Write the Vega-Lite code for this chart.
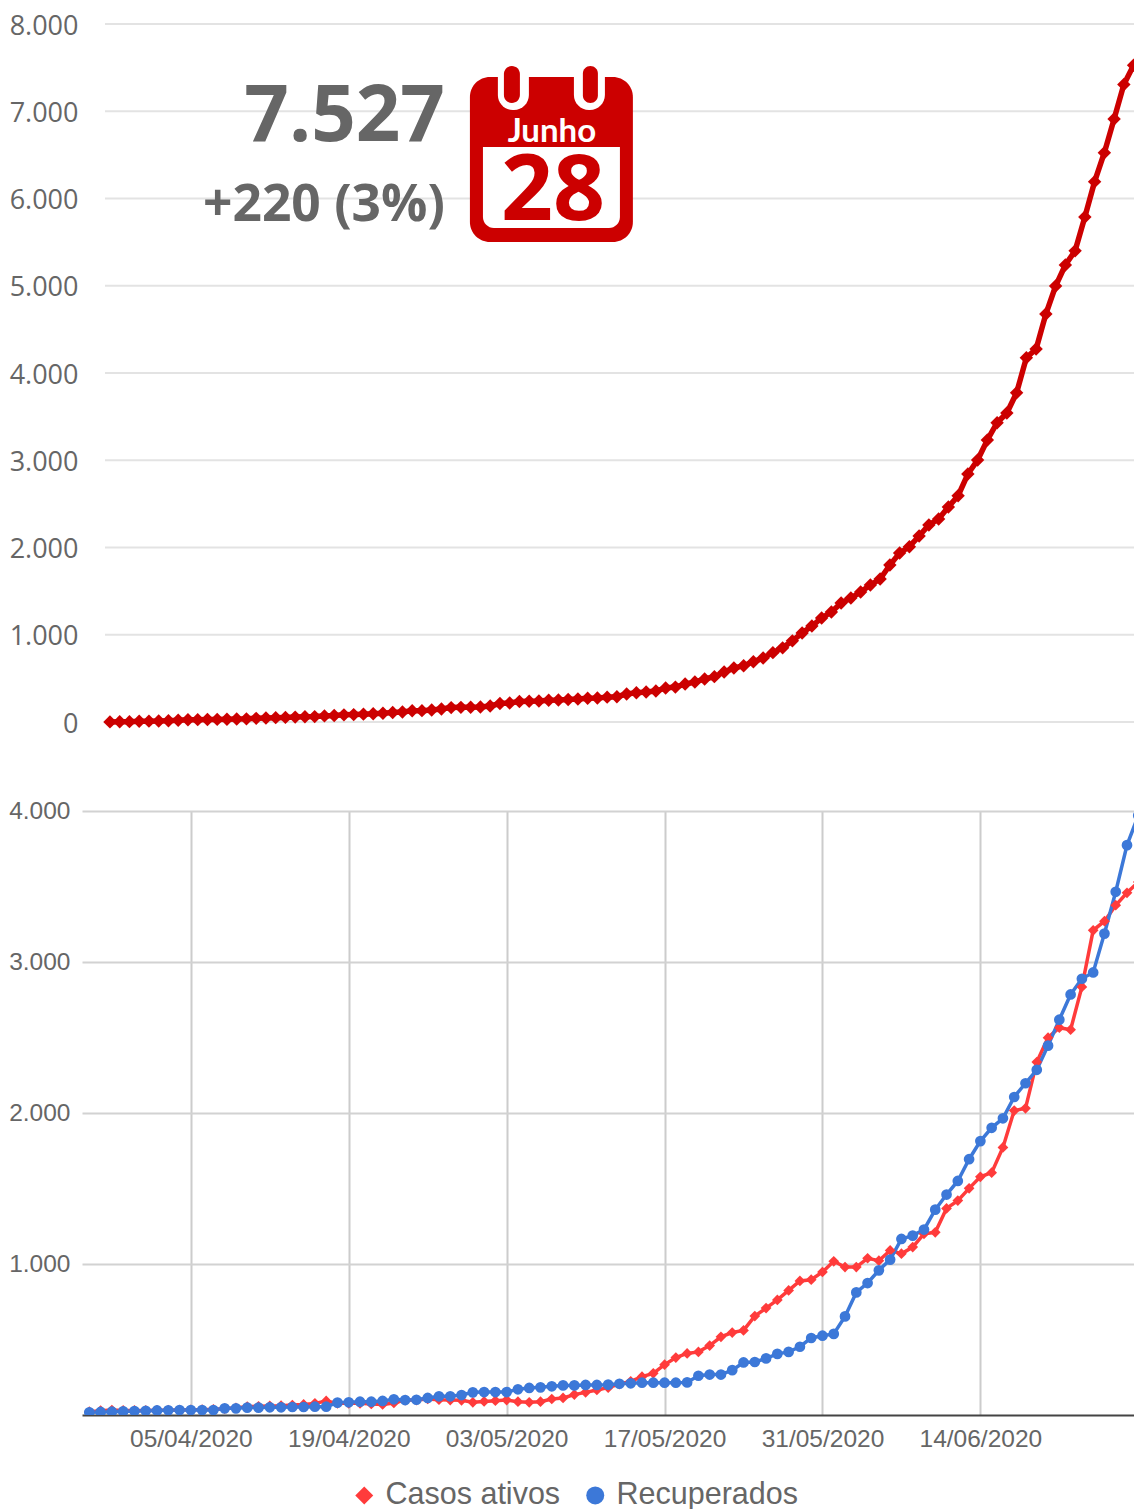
{"$schema":"https://vega.github.io/schema/vega-lite/v6.json","background":"white","padding":{"left":0,"top":12,"right":0,"bottom":0},"spacing":61,"config":{"view":{"stroke":null}},
"datasets":{
"top":[{"d":"2020-03-15","v":1},{"d":"2020-03-16","v":2},{"d":"2020-03-17","v":4},{"d":"2020-03-18","v":8},{"d":"2020-03-19","v":10},{"d":"2020-03-20","v":12},{"d":"2020-03-21","v":15},{"d":"2020-03-22","v":20},{"d":"2020-03-23","v":25},{"d":"2020-03-24","v":27},{"d":"2020-03-25","v":28},{"d":"2020-03-26","v":30},{"d":"2020-03-27","v":32},{"d":"2020-03-28","v":34},{"d":"2020-03-29","v":36},{"d":"2020-03-30","v":42},{"d":"2020-03-31","v":45},{"d":"2020-04-01","v":50},{"d":"2020-04-02","v":53},{"d":"2020-04-03","v":56},{"d":"2020-04-04","v":60},{"d":"2020-04-05","v":62},{"d":"2020-04-06","v":70},{"d":"2020-04-07","v":75},{"d":"2020-04-08","v":82},{"d":"2020-04-09","v":85},{"d":"2020-04-10","v":90},{"d":"2020-04-11","v":94},{"d":"2020-04-12","v":100},{"d":"2020-04-13","v":108},{"d":"2020-04-14","v":115},{"d":"2020-04-15","v":128},{"d":"2020-04-16","v":130},{"d":"2020-04-17","v":138},{"d":"2020-04-18","v":149},{"d":"2020-04-19","v":165},{"d":"2020-04-20","v":168},{"d":"2020-04-21","v":170},{"d":"2020-04-22","v":172},{"d":"2020-04-23","v":183},{"d":"2020-04-24","v":212},{"d":"2020-04-25","v":218},{"d":"2020-04-26","v":235},{"d":"2020-04-27","v":238},{"d":"2020-04-28","v":241},{"d":"2020-04-29","v":250},{"d":"2020-04-30","v":252},{"d":"2020-05-01","v":258},{"d":"2020-05-02","v":264},{"d":"2020-05-03","v":272},{"d":"2020-05-04","v":275},{"d":"2020-05-05","v":285},{"d":"2020-05-06","v":290},{"d":"2020-05-07","v":321},{"d":"2020-05-08","v":335},{"d":"2020-05-09","v":344},{"d":"2020-05-10","v":355},{"d":"2020-05-11","v":390},{"d":"2020-05-12","v":400},{"d":"2020-05-13","v":435},{"d":"2020-05-14","v":458},{"d":"2020-05-15","v":493},{"d":"2020-05-16","v":520},{"d":"2020-05-17","v":573},{"d":"2020-05-18","v":618},{"d":"2020-05-19","v":645},{"d":"2020-05-20","v":690},{"d":"2020-05-21","v":733},{"d":"2020-05-22","v":795},{"d":"2020-05-23","v":850},{"d":"2020-05-24","v":930},{"d":"2020-05-25","v":1020},{"d":"2020-05-26","v":1100},{"d":"2020-05-27","v":1192},{"d":"2020-05-28","v":1261},{"d":"2020-05-29","v":1364},{"d":"2020-05-30","v":1421},{"d":"2020-05-31","v":1490},{"d":"2020-06-01","v":1570},{"d":"2020-06-02","v":1639},{"d":"2020-06-03","v":1799},{"d":"2020-06-04","v":1937},{"d":"2020-06-05","v":2009},{"d":"2020-06-06","v":2132},{"d":"2020-06-07","v":2258},{"d":"2020-06-08","v":2327},{"d":"2020-06-09","v":2464},{"d":"2020-06-10","v":2594},{"d":"2020-06-11","v":2842},{"d":"2020-06-12","v":3003},{"d":"2020-06-13","v":3232},{"d":"2020-06-14","v":3430},{"d":"2020-06-15","v":3541},{"d":"2020-06-16","v":3774},{"d":"2020-06-17","v":4175},{"d":"2020-06-18","v":4275},{"d":"2020-06-19","v":4676},{"d":"2020-06-20","v":4997},{"d":"2020-06-21","v":5238},{"d":"2020-06-22","v":5400},{"d":"2020-06-23","v":5788},{"d":"2020-06-24","v":6193},{"d":"2020-06-25","v":6525},{"d":"2020-06-26","v":6911},{"d":"2020-06-27","v":7307},{"d":"2020-06-28","v":7527}],
"bottom":[{"d":"2020-03-27","Casos ativos":22,"Recuperados":18},{"d":"2020-03-28","Casos ativos":29,"Recuperados":20},{"d":"2020-03-29","Casos ativos":33,"Recuperados":22},{"d":"2020-03-30","Casos ativos":30,"Recuperados":24},{"d":"2020-03-31","Casos ativos":30,"Recuperados":26},{"d":"2020-04-01","Casos ativos":30,"Recuperados":28},{"d":"2020-04-02","Casos ativos":31,"Recuperados":30},{"d":"2020-04-03","Casos ativos":32,"Recuperados":31},{"d":"2020-04-04","Casos ativos":33,"Recuperados":33},{"d":"2020-04-05","Casos ativos":34,"Recuperados":33},{"d":"2020-04-06","Casos ativos":35,"Recuperados":33},{"d":"2020-04-07","Casos ativos":38,"Recuperados":33},{"d":"2020-04-08","Casos ativos":42,"Recuperados":44},{"d":"2020-04-09","Casos ativos":48,"Recuperados":44},{"d":"2020-04-10","Casos ativos":55,"Recuperados":49},{"d":"2020-04-11","Casos ativos":58,"Recuperados":49},{"d":"2020-04-12","Casos ativos":60,"Recuperados":51},{"d":"2020-04-13","Casos ativos":62,"Recuperados":51},{"d":"2020-04-14","Casos ativos":66,"Recuperados":53},{"d":"2020-04-15","Casos ativos":70,"Recuperados":53},{"d":"2020-04-16","Casos ativos":77,"Recuperados":55},{"d":"2020-04-17","Casos ativos":93,"Recuperados":55},{"d":"2020-04-18","Casos ativos":77,"Recuperados":82},{"d":"2020-04-19","Casos ativos":77,"Recuperados":84},{"d":"2020-04-20","Casos ativos":77,"Recuperados":88},{"d":"2020-04-21","Casos ativos":73,"Recuperados":88},{"d":"2020-04-22","Casos ativos":70,"Recuperados":93},{"d":"2020-04-23","Casos ativos":80,"Recuperados":104},{"d":"2020-04-24","Casos ativos":99,"Recuperados":99},{"d":"2020-04-25","Casos ativos":99,"Recuperados":101},{"d":"2020-04-26","Casos ativos":106,"Recuperados":113},{"d":"2020-04-27","Casos ativos":101,"Recuperados":124},{"d":"2020-04-28","Casos ativos":99,"Recuperados":124},{"d":"2020-04-29","Casos ativos":97,"Recuperados":132},{"d":"2020-04-30","Casos ativos":84,"Recuperados":150},{"d":"2020-05-01","Casos ativos":90,"Recuperados":152},{"d":"2020-05-02","Casos ativos":95,"Recuperados":152},{"d":"2020-05-03","Casos ativos":99,"Recuperados":152},{"d":"2020-05-04","Casos ativos":88,"Recuperados":170},{"d":"2020-05-05","Casos ativos":84,"Recuperados":179},{"d":"2020-05-06","Casos ativos":88,"Recuperados":183},{"d":"2020-05-07","Casos ativos":106,"Recuperados":190},{"d":"2020-05-08","Casos ativos":113,"Recuperados":196},{"d":"2020-05-09","Casos ativos":135,"Recuperados":196},{"d":"2020-05-10","Casos ativos":150,"Recuperados":199},{"d":"2020-05-11","Casos ativos":166,"Recuperados":199},{"d":"2020-05-12","Casos ativos":181,"Recuperados":201},{"d":"2020-05-13","Casos ativos":205,"Recuperados":207},{"d":"2020-05-14","Casos ativos":223,"Recuperados":210},{"d":"2020-05-15","Casos ativos":254,"Recuperados":214},{"d":"2020-05-16","Casos ativos":276,"Recuperados":214},{"d":"2020-05-17","Casos ativos":333,"Recuperados":214},{"d":"2020-05-18","Casos ativos":380,"Recuperados":214},{"d":"2020-05-19","Casos ativos":408,"Recuperados":216},{"d":"2020-05-20","Casos ativos":418,"Recuperados":260},{"d":"2020-05-21","Casos ativos":460,"Recuperados":268},{"d":"2020-05-22","Casos ativos":518,"Recuperados":268},{"d":"2020-05-23","Casos ativos":546,"Recuperados":297},{"d":"2020-05-24","Casos ativos":560,"Recuperados":348},{"d":"2020-05-25","Casos ativos":655,"Recuperados":351},{"d":"2020-05-26","Casos ativos":708,"Recuperados":375},{"d":"2020-05-27","Casos ativos":762,"Recuperados":405},{"d":"2020-05-28","Casos ativos":825,"Recuperados":418},{"d":"2020-05-29","Casos ativos":888,"Recuperados":452},{"d":"2020-05-30","Casos ativos":896,"Recuperados":510},{"d":"2020-05-31","Casos ativos":947,"Recuperados":525},{"d":"2020-06-01","Casos ativos":1018,"Recuperados":537},{"d":"2020-06-02","Casos ativos":980,"Recuperados":653},{"d":"2020-06-03","Casos ativos":980,"Recuperados":812},{"d":"2020-06-04","Casos ativos":1038,"Recuperados":874},{"d":"2020-06-05","Casos ativos":1022,"Recuperados":958},{"d":"2020-06-06","Casos ativos":1090,"Recuperados":1029},{"d":"2020-06-07","Casos ativos":1068,"Recuperados":1166},{"d":"2020-06-08","Casos ativos":1112,"Recuperados":1188},{"d":"2020-06-09","Casos ativos":1200,"Recuperados":1228},{"d":"2020-06-10","Casos ativos":1210,"Recuperados":1360},{"d":"2020-06-11","Casos ativos":1368,"Recuperados":1460},{"d":"2020-06-12","Casos ativos":1420,"Recuperados":1550},{"d":"2020-06-13","Casos ativos":1501,"Recuperados":1694},{"d":"2020-06-14","Casos ativos":1577,"Recuperados":1814},{"d":"2020-06-15","Casos ativos":1605,"Recuperados":1902},{"d":"2020-06-16","Casos ativos":1772,"Recuperados":1965},{"d":"2020-06-17","Casos ativos":2016,"Recuperados":2106},{"d":"2020-06-18","Casos ativos":2031,"Recuperados":2197},{"d":"2020-06-19","Casos ativos":2337,"Recuperados":2286},{"d":"2020-06-20","Casos ativos":2499,"Recuperados":2446},{"d":"2020-06-21","Casos ativos":2565,"Recuperados":2618},{"d":"2020-06-22","Casos ativos":2552,"Recuperados":2785},{"d":"2020-06-23","Casos ativos":2835,"Recuperados":2889},{"d":"2020-06-24","Casos ativos":3210,"Recuperados":2931},{"d":"2020-06-25","Casos ativos":3270,"Recuperados":3188},{"d":"2020-06-26","Casos ativos":3376,"Recuperados":3465},{"d":"2020-06-27","Casos ativos":3458,"Recuperados":3774},{"d":"2020-06-28","Casos ativos":3530,"Recuperados":3970}]
},
"vconcat":[
{"width":1052,"height":698,
"encoding":{
"x":{"field":"d","type":"temporal","scale":{"type":"utc","domain":["2020-03-12T03:10:00Z","2020-06-28T01:00:00Z"]},"axis":null},
"y":{"field":"v","type":"quantitative","scale":{"domain":[0,8000]},"axis":{"title":null,"values":[0,1000,2000,3000,4000,5000,6000,7000,8000],"labelExpr":"replace(format(datum.value,','),',','.')","domain":false,"ticks":false,"grid":false,"labelFont":"Open Sans","labelFontSize":27,"labelColor":"#666666","labelPadding":4,"labelOffset":2,"minExtent":82,"maxExtent":82}}
},
"layer":[
{"data":{"values":[{"d":"2020-03-14T11:45:00Z","d2":"2020-06-28T01:00:00Z","v":0},{"d":"2020-03-14T11:45:00Z","d2":"2020-06-28T01:00:00Z","v":1000},{"d":"2020-03-14T11:45:00Z","d2":"2020-06-28T01:00:00Z","v":2000},{"d":"2020-03-14T11:45:00Z","d2":"2020-06-28T01:00:00Z","v":3000},{"d":"2020-03-14T11:45:00Z","d2":"2020-06-28T01:00:00Z","v":4000},{"d":"2020-03-14T11:45:00Z","d2":"2020-06-28T01:00:00Z","v":5000},{"d":"2020-03-14T11:45:00Z","d2":"2020-06-28T01:00:00Z","v":6000},{"d":"2020-03-14T11:45:00Z","d2":"2020-06-28T01:00:00Z","v":7000},{"d":"2020-03-14T11:45:00Z","d2":"2020-06-28T01:00:00Z","v":8000}]},"mark":{"type":"rule","color":"#e3e3e3","strokeWidth":2},"encoding":{"x2":{"field":"d2"}}},
{"data":{"name":"top"},"mark":{"type":"line","color":"#cc0000","strokeWidth":5.5}},
{"data":{"name":"top"},"mark":{"type":"point","shape":"diamond","filled":true,"opacity":1,"color":"#cc0000","size":180}},
{"data":{"values":[{"d":"2020-04-20T22:09:00Z","d2":"2020-05-07T15:22:00Z","v":7393,"v2":5501}]},"mark":{"type":"rect","color":"#cc0000","cornerRadius":20},"encoding":{"x2":{"field":"d2"},"y2":{"field":"v2"}}},
{"data":{"values":[{"d":"2020-04-22T06:14:00Z","d2":"2020-05-06T07:26:00Z","v":6590,"v2":5662}]},"mark":{"type":"rect","color":"#ffffff","cornerRadiusBottomLeft":11,"cornerRadiusBottomRight":11},"encoding":{"x2":{"field":"d2"},"y2":{"field":"v2"}}},
{"data":{"values":[{"d":"2020-04-23T19:00:00Z","d2":"2020-04-26T23:20:00Z","v":7473,"v2":7014},{"d":"2020-05-01T14:10:00Z","d2":"2020-05-04T18:28:00Z","v":7473,"v2":7014}]},"mark":{"type":"rect","color":"#ffffff","cornerRadiusBottomLeft":15,"cornerRadiusBottomRight":15},"encoding":{"x2":{"field":"d2"},"y2":{"field":"v2"}}},
{"data":{"values":[{"d":"2020-04-24T09:50:00Z","d2":"2020-04-26T01:12:00Z","v":7519,"v2":7095},{"d":"2020-05-02T12:14:00Z","d2":"2020-05-04T01:12:00Z","v":7519,"v2":7095}]},"mark":{"type":"rect","color":"#cc0000","cornerRadius":8},"encoding":{"x2":{"field":"d2"},"y2":{"field":"v2"}}},
{"data":{"values":[{"d":"2020-04-29T08:00:00Z","v":6648,"t":"Junho"}]},"mark":{"type":"text","color":"#ffffff","font":"Lato","fontWeight":700,"fontSize":33,"align":"center","baseline":"alphabetic"},"encoding":{"text":{"field":"t"}}},
{"data":{"values":[{"d":"2020-04-29T10:30:00Z","v":5754,"t":"28"}]},"mark":{"type":"text","color":"#cc0000","font":"Open Sans","fontWeight":700,"fontSize":91,"align":"center","baseline":"alphabetic"},"encoding":{"text":{"field":"t"}}},
{"data":{"values":[{"d":"2020-04-18T08:38:00Z","v":6660,"t":"7.527"}]},"mark":{"type":"text","color":"#666666","font":"Open Sans","fontWeight":700,"fontSize":78,"align":"right","baseline":"alphabetic"},"encoding":{"text":{"field":"t"}}},
{"data":{"values":[{"d":"2020-04-18T08:38:00Z","v":5740,"t":"+220 (3%)"}]},"mark":{"type":"text","color":"#666666","font":"Open Sans","fontWeight":700,"fontSize":51.5,"align":"right","baseline":"alphabetic"},"encoding":{"text":{"field":"t"}}}
]},
{"width":1052,"height":604,
"data":{"name":"bottom"},
"transform":[{"fold":["Casos ativos","Recuperados"],"as":["serie","v"]}],
"encoding":{
"x":{"field":"d","type":"temporal","scale":{"type":"utc","domain":["2020-03-26T08:24:00Z","2020-06-27T14:53:00Z"]},"axis":{"title":null,"values":[{"year":2020,"month":4,"date":5,"utc":true},{"year":2020,"month":4,"date":19,"utc":true},{"year":2020,"month":5,"date":3,"utc":true},{"year":2020,"month":5,"date":17,"utc":true},{"year":2020,"month":5,"date":31,"utc":true},{"year":2020,"month":6,"date":14,"utc":true}],"labelExpr":"utcFormat(datum.value,'%d/%m/%Y')","grid":true,"gridColor":"#cccccc","gridWidth":2,"ticks":false,"domain":true,"domainColor":"#444444","domainWidth":2,"labelFont":"Liberation Sans","labelFontSize":24.5,"labelColor":"#666666","labelPadding":12,"labelFlush":false}},
"y":{"field":"v","type":"quantitative","scale":{"domain":[0,4000]},"axis":{"title":null,"values":[1000,2000,3000,4000],"labelExpr":"replace(format(datum.value,','),',','.')","domain":false,"ticks":false,"grid":true,"gridColor":"#d2d2d2","gridWidth":2,"labelFont":"Liberation Sans","labelFontSize":24.5,"labelColor":"#666666","labelPadding":12,"minExtent":82,"maxExtent":82}},
"color":{"field":"serie","type":"nominal","scale":{"domain":["Casos ativos","Recuperados"],"range":["#ff3b3b","#3c78d8"]},"legend":{"title":null,"orient":"none","legendX":267,"legendY":1456,"direction":"horizontal","labelFont":"Liberation Sans","labelFontSize":30.5,"labelColor":"#666666","labelLimit":400,"symbolSize":324,"symbolStrokeWidth":0,"columnPadding":19,"labelOffset":6}}
},
"layer":[
{"mark":{"type":"line","strokeWidth":3.5,"clip":true}},
{"mark":{"type":"point","filled":true,"opacity":1,"size":115,"clip":true},"encoding":{"shape":{"field":"serie","type":"nominal","scale":{"domain":["Casos ativos","Recuperados"],"range":["diamond","circle"]}},"order":{"field":"serie"}}}
]}
]}
